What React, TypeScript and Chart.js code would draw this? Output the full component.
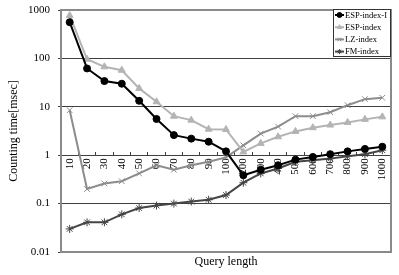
import React, { useEffect, useRef } from 'react';
import { Chart, registerables } from 'chart.js';
import { drawPoint } from 'chart.js/helpers';

Chart.register(...registerables);

const categories = ['10', '20', '30', '40', '50', '60', '70', '80', '90', '100', '200', '300', '400', '500', '600', '700', '800', '900', '1000'];
const espIndexI = [560, 62, 34, 30, 13.3, 5.6, 2.6, 2.2, 1.9, 1.2, 0.385, 0.5, 0.62, 0.81, 0.92, 1.05, 1.2, 1.35, 1.5];
const espIndex = [770, 96, 67, 57, 24, 12.7, 6.4, 5.3, 3.45, 3.4, 1.17, 1.75, 2.4, 3.1, 3.7, 4.2, 4.75, 5.5, 6.2];
const lzIndex = [8.5, 0.2, 0.26, 0.29, 0.42, 0.62, 0.5, 0.62, 0.73, 0.9, 1.6, 2.8, 3.9, 6.4, 6.4, 7.7, 10.8, 14.4, 15.4];
const fmIndex = [0.03, 0.041, 0.041, 0.06, 0.081, 0.091, 0.1, 0.11, 0.12, 0.15, 0.27, 0.42, 0.53, 0.73, 0.79, 0.85, 0.95, 1.05, 1.27];
const yTicks = [0.01, 0.1, 1, 10, 100, 1000];

const FONT = '"Liberation Serif", "Times New Roman", serif';

const framePlugin = {
  id: 'frame',
  beforeDatasetsDraw(chart: any) {
    const { ctx, chartArea } = chart;
    ctx.save();
    ctx.strokeStyle = '#8a8a8a';
    ctx.lineWidth = 2;
    ctx.strokeRect(chartArea.left, chartArea.top, chartArea.right - chartArea.left, chartArea.bottom - chartArea.top);
    ctx.restore();
  },
};

const legendPlugin = {
  id: 'boxLegend',
  afterDraw(chart: any) {
    const { ctx, chartArea } = chart;
    const w = 58;
    const h = 48;
    const x = chartArea.right - w;
    const y = chartArea.top - 1;
    ctx.save();
    ctx.fillStyle = '#ffffff';
    ctx.fillRect(x, y, w, h);
    ctx.strokeStyle = '#333333';
    ctx.lineWidth = 1;
    ctx.strokeRect(x + 0.5, y + 0.5, w - 1, h - 1);
    chart.data.datasets.forEach((ds: any, i: number) => {
      const cy = y + 6 + i * 12.2;
      ctx.strokeStyle = ds.borderColor;
      ctx.lineWidth = 2;
      ctx.beginPath();
      ctx.moveTo(x + 2, cy);
      ctx.lineTo(x + 11, cy);
      ctx.stroke();
      ctx.fillStyle = ds.pointBackgroundColor;
      ctx.strokeStyle = ds.pointBorderColor;
      ctx.lineWidth = 1;
      drawPoint(ctx, { pointStyle: ds.pointStyle, radius: 2.5, borderWidth: 1, rotation: 0 } as any, x + 6.5, cy);
      ctx.fillStyle = '#000000';
      ctx.font = '8.5px ' + FONT;
      ctx.textBaseline = 'middle';
      ctx.textAlign = 'left';
      ctx.fillText(ds.label, x + 12, cy + 0.5);
    });
    ctx.restore();
  },
};

function mkSet(label: string, data: number[], color: string, style: string, radius: number) {
  return {
    label,
    data,
    borderColor: color,
    backgroundColor: color,
    pointBackgroundColor: color,
    pointBorderColor: color,
    pointStyle: style,
    pointRadius: radius,
    pointBorderWidth: 1,
    borderWidth: 2,
    tension: 0,
    xAxisID: 'x',
    yAxisID: 'y',
  };
}

export default function App() {
  const ref = useRef<HTMLCanvasElement>(null);
  useEffect(() => {
    if (!ref.current) return;
    Chart.defaults.font.family = FONT;
    Chart.defaults.color = '#000';
    const chart = new Chart(ref.current, {
      type: 'line',
      data: {
        labels: categories,
        datasets: [
          mkSet('ESP-index-I', espIndexI, '#000000', 'circle', 3.5),
          mkSet('ESP-index', espIndex, '#b4b4b4', 'triangle', 4),
          mkSet('LZ-index', lzIndex, '#8c8c8c', 'crossRot', 4),
          mkSet('FM-index', fmIndex, '#454545', 'star', 4),
        ] as any,
      },
      options: {
        responsive: false,
        animation: false,
        layout: { padding: { left: 0, top: 10, right: 8, bottom: 0 } },
        plugins: { legend: { display: false }, tooltip: { enabled: false } },
        scales: {
          x: {
            type: 'category',
            position: { y: 1 } as any,
            offset: true,
            grid: { display: true, drawOnChartArea: false, drawTicks: true, tickLength: -4, color: '#404040', offset: true },
            border: { display: true, color: '#404040', width: 1 },
            ticks: { autoSkip: false, minRotation: 90, maxRotation: 90, padding: 7, font: { size: 11, family: FONT }, color: '#000' },
            afterFit: (s: any) => { s.height = 0; s.paddingLeft = 0; s.paddingRight = 0; },
          },
          x2: {
            type: 'category',
            position: 'bottom',
            offset: true,
            grid: { display: false },
            border: { display: false },
            ticks: { display: false },
            title: { display: true, text: 'Query length', font: { size: 12, family: FONT }, color: '#000', padding: { top: 0, bottom: 6 } },
            afterFit: (s: any) => { s.height = 23; s.paddingLeft = 0; s.paddingRight = 0; },
          },
          y: {
            type: 'logarithmic',
            min: 0.01,
            max: 1000,
            afterBuildTicks: (s: any) => { s.ticks = yTicks.map((v) => ({ value: v })); },
            ticks: { callback: (v: any) => String(v), font: { size: 11, family: FONT }, color: '#000', padding: 8 },
            grid: {
              color: (c: any) => (c.tick && (c.tick.value === 0.01 || c.tick.value === 1000) ? 'rgba(0,0,0,0)' : '#404040'),
              tickColor: '#404040',
              tickLength: 3,
              lineWidth: 1,
            },
            border: { display: false },
            title: { display: true, text: 'Counting time[msec]', font: { size: 12, family: FONT }, color: '#000', padding: { top: 7, bottom: 0 } },
            afterFit: (s: any) => { s.width = 61; s.paddingTop = 0; s.paddingBottom = 0; },
          },
        },
      } as any,
      plugins: [framePlugin, legendPlugin],
    });
    return () => chart.destroy();
  }, []);
  return (
    <div style={{ position: 'fixed', left: 0, top: 0, width: 399, height: 275, background: '#fff' }}>
      <canvas ref={ref} width={399} height={275} />
    </div>
  );
}
